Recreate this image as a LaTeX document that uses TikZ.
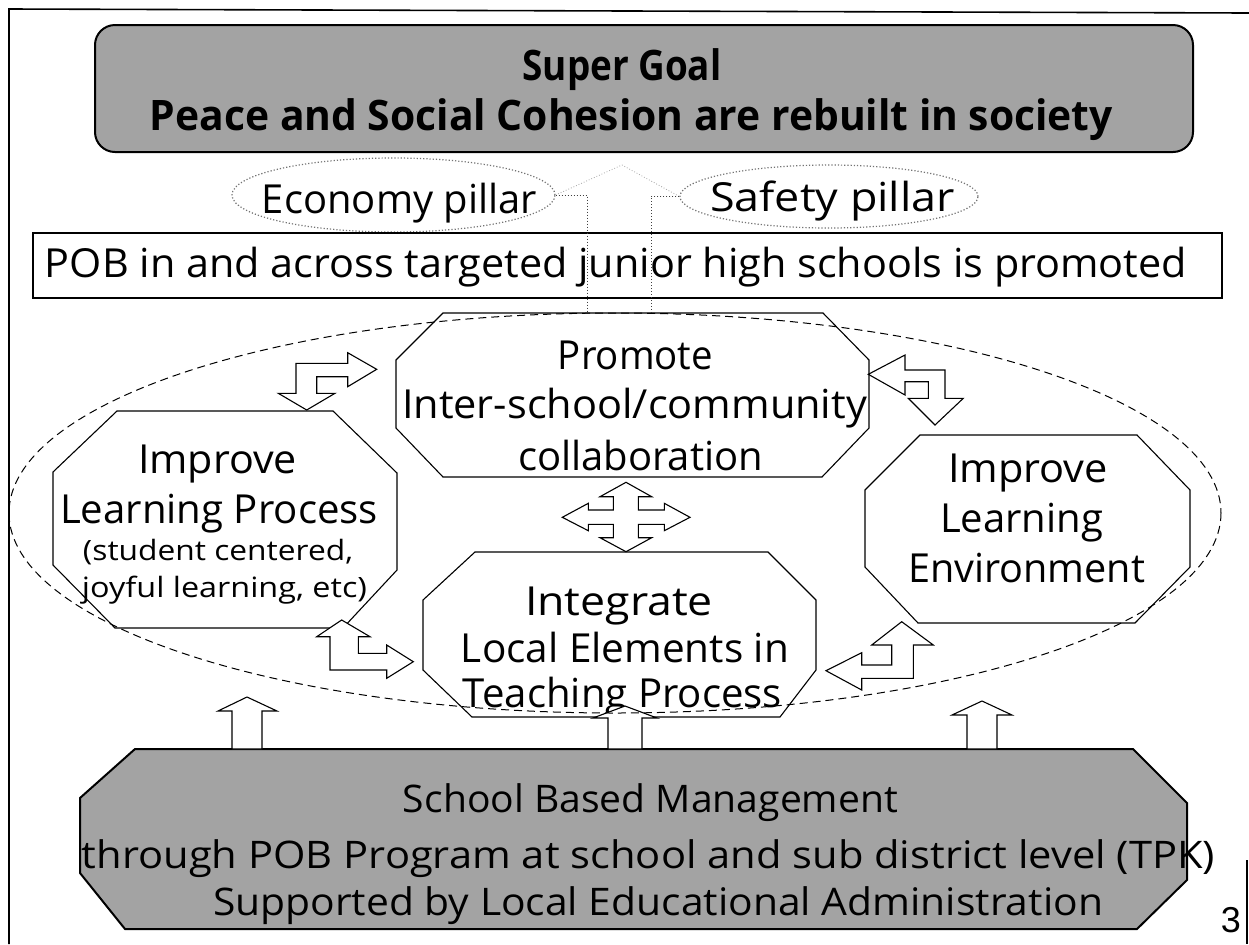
\documentclass[tikz,border=0pt]{standalone}
\usepackage{fontspec}
\setmainfont{Open Sans}
\newfontfamily\numfont{Liberation Sans}
\usepackage{graphicx}
\usetikzlibrary{shapes.geometric}
\definecolor{bangray}{gray}{0.64}
\newcommand\fw[2]{\resizebox{#1pt}{\height}{#2}}
\begin{document}
\begin{tikzpicture}[x=0.5pt,y=-0.5pt,
  mtxt/.style={anchor=base,inner sep=0pt,font=\fontsize{20}{24}\selectfont},
  stxt/.style={anchor=base,inner sep=0pt,font=\fontsize{14}{17}\selectfont},
  btxt/.style={anchor=base,inner sep=0pt,font=\fontsize{21}{25}\selectfont\bfseries},
  ltxt/.style={anchor=base,inner sep=0pt,font=\fontsize{19}{23}\selectfont},
  octo/.style={draw=black,fill=white,line width=0.55pt},
  barrow/.style={draw=black,fill=white,line width=0.55pt,line join=miter},
  banner/.style={draw=black,fill=bangray,line width=1pt},
  pillar/.style={draw=black!55,densely dotted,line width=0.6pt,ellipse,inner sep=0pt},
  link/.style={draw=black!75,densely dotted,line width=0.5pt},
  faint/.style={draw=black!35,densely dotted,line width=0.4pt},
]
\useasboundingbox (0,0) rectangle (1249,944);
\fill[white] (0,0) rectangle (1249,944);
% page frame
\draw[line width=0.8pt] (1249,13) -- (9,9) -- (9,944);
\draw[line width=0.6pt] (1247,860) -- (1247,944);

% super goal banner
\draw[banner,rounded corners=10pt] (95,25) rectangle (1193,152);
\node[btxt] (sg1) at (622,80) {\fw{99.5}{Super Goal}};
\node[btxt] (sg2) at (631.5,130) {\fw{481.5}{Peace and Social Cohesion are rebuilt in society}};

% pillars
\node[pillar,minimum width=161.5pt,minimum height=37pt] (econ) at (393.5,195) {};
\node[pillar,minimum width=149pt,minimum height=31.5pt] (safe) at (829,196.5) {};
\node[mtxt] (econT) at (399.5,213) {\fw{137.5}{Economy pillar}};
\node[mtxt] (safeT) at (832.5,211) {\fw{122.5}{Safety pillar}};
\coordinate (peak) at (622,165);
\draw[faint] (econ.east) -- (peak) -- (safe.west);

% outcome box
\draw[line width=0.6pt] (33,233) rectangle (1222,298);
\node[mtxt] (pob) at (616,277) {\fw{571}{POB in and across targeted junior high schools is promoted}};

% octagons
\draw[octo] (117,411) -- (333,411) -- (397,473) -- (397,570) -- (343,628) -- (115,628) -- (53,565) -- (53,472) -- cycle;
\draw[octo] (443,313) -- (823,313) -- (869,360) -- (869,428) -- (822,477) -- (443,477) -- (396,428) -- (396,360) -- cycle;
\draw[octo] (920,435) -- (1137,435) -- (1190,490) -- (1190,567) -- (1135,623) -- (918,623) -- (865,567) -- (865,490) -- cycle;
\draw[octo] (475,552) -- (768,552) -- (816,600) -- (816,670) -- (780,717) -- (472,717) -- (423,670) -- (423,600) -- cycle;

% pillar links to the top octagon
\coordinate (pA) at (587,313);
\coordinate (pB) at (651,313);
\draw[link] (econ.east) -| (pA);
\draw[link] (safe.west) -| (pB);

% octagon texts
\node[mtxt] (lp1) at (217.5,473) {\fw{79.5}{Improve}};
\node[mtxt] (lp2) at (219,523) {\fw{159}{Learning Process}};
\node[stxt] (lp3) at (218,560) {\fw{135}{(student centered,}};
\node[stxt] (lp4) at (224.5,597) {\fw{142.5}{joyful learning, etc)}};

\node[mtxt] (pc1) at (635.5,369) {\fw{77.5}{Promote}};
\node[mtxt] (pc2) at (634.5,418) {\fw{232.5}{Inter-school/community}};
\node[mtxt] (pc3) at (640.5,470) {\fw{122.5}{collaboration}};

\node[mtxt] (le1) at (1028,482) {\fw{80}{Improve}};
\node[mtxt] (le2) at (1021.5,532) {\fw{81.5}{Learning}};
\node[mtxt] (le3) at (1026.5,582) {\fw{118.5}{Environment}};

\node[mtxt] (il1) at (619,615) {\fw{94}{Integrate}};
\node[mtxt] (il2) at (625,662) {\fw{164}{Local Elements in}};
\node[mtxt] (il3) at (622.5,707) {\fw{159.5}{Teaching Process}};

% bent double arrows
\draw[barrow] (376.7,369.3) -- (347.7,386.7) -- (347.7,376.7) -- (316.7,376.7) -- (316.7,393.3) -- (335,393.3) -- (306.7,410) -- (278.3,393.3) -- (296,393.3) -- (296,363.3) -- (347.7,363.3) -- (347.7,352.7) -- cycle;
\draw[barrow] (868.3,374.3) -- (905,355) -- (905,370) -- (945,370) -- (945,398.3) -- (963.3,398.3) -- (935,425) -- (908.3,398.3) -- (928.3,398.3) -- (928.3,381.7) -- (905,381.7) -- (905,395) -- cycle;
\draw[barrow] (341.7,620) -- (370,636.7) -- (358.3,636.7) -- (358.3,653.3) -- (386.7,653.3) -- (386.7,645) -- (413.3,661.7) -- (386.7,678.3) -- (386.7,670) -- (330,670) -- (330,636.7) -- (316.7,636.7) -- cycle;
\draw[barrow] (901.7,621.7) -- (933.3,645) -- (913.3,645) -- (913.3,678.3) -- (861.7,678.3) -- (861.7,690) -- (826,670.7) -- (861.7,652.7) -- (861.7,665) -- (891.7,665) -- (891.7,645) -- (871.7,645) -- cycle;
% four-way arrow
\draw[barrow] (626,482.3) -- (651.7,496.7) -- (638.3,496.7) -- (638.3,510) -- (664.3,510) -- (664.3,503.3) -- (690,517.3) -- (664.3,530.7) -- (664.3,524.3) -- (638.3,524.3) -- (638.3,537.7) -- (651.7,537.7) -- (626,551.7) -- (600,537.7) -- (613.3,537.7) -- (613.3,524.3) -- (588.3,524.3) -- (588.3,530.7) -- (562.3,517.3) -- (588.3,503.3) -- (588.3,510) -- (613.3,510) -- (613.3,496.7) -- (600,496.7) -- cycle;

% bottom banner
\draw[banner,line join=miter] (135,749) -- (1133,749) -- (1187,803) -- (1187,880) -- (1137,929) -- (125,929) -- (80,873) -- (80,798) -- cycle;
% up arrows
\draw[barrow] (247,697) -- (277,711) -- (262,711) -- (262,749) -- (232,749) -- (232,711) -- (218,711) -- cycle;
\draw[barrow] (625,706) -- (657,718) -- (642,718) -- (642,749) -- (608,749) -- (608,718) -- (593,718) -- cycle;
\draw[barrow] (982,701) -- (1012,715) -- (997,715) -- (997,749) -- (967,749) -- (967,715) -- (952,715) -- cycle;

\node[ltxt] (sb1) at (650.5,812) {\fw{247.5}{School Based Management}};
\node[ltxt] (sb2) at (648.5,868) {\fw{566.5}{through POB Program at school and sub district level (TPK)}};
\node[ltxt] (sb3) at (658,915) {\fw{445}{Supported by Local Educational Administration}};

% dashed cluster ellipse
\draw[line width=0.5pt,dash pattern=on 4pt off 2.5pt] (615,513) ellipse [x radius=606, y radius=200];

% page number
\node[anchor=base,inner sep=0pt,font=\numfont\fontsize{18}{20}\selectfont] (pg) at (1231,932) {3};
\end{tikzpicture}
\end{document}
